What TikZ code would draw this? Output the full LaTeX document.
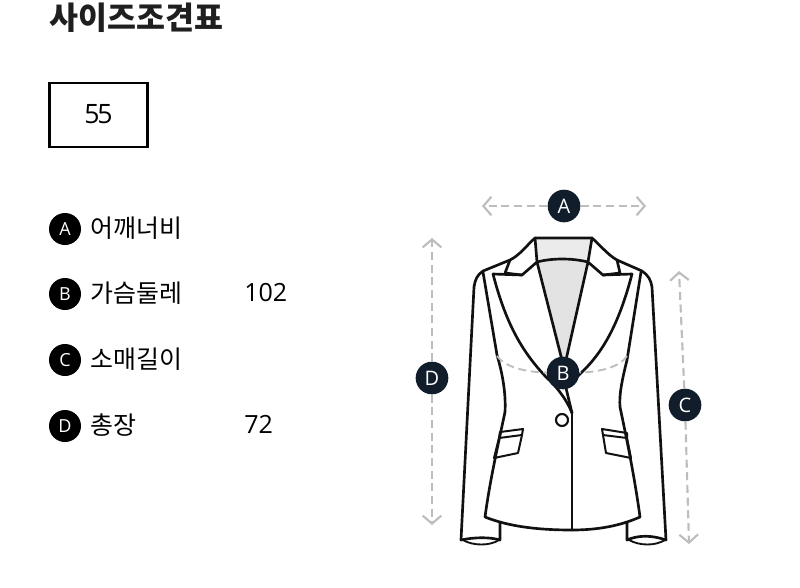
\documentclass[tikz,border=0pt]{standalone}
\usepackage{fontspec}
\setmainfont{Open Sans}
\newfontfamily\krfont{Noto Sans CJK KR}
\usetikzlibrary{arrows.meta}
\definecolor{navy}{HTML}{111D2B}
\definecolor{dashgray}{HTML}{BDBDBD}
\definecolor{inkline}{HTML}{111111}
\tikzset{
  x=0.75pt,y=-0.75pt,
  badge/.style={circle,fill=black,text=white,minimum size=24pt,inner sep=0pt,font=\fontsize{13.5}{13.5}\selectfont},
  jbadge/.style={circle,fill=navy,text=white,minimum size=24.5pt,inner sep=0pt,font=\fontsize{15}{15}\selectfont},
  label/.style={anchor=west,inner sep=0pt,font=\krfont\fontsize{18.7}{18.7}\selectfont,text=black},
  value/.style={anchor=west,inner sep=0pt,font=\fontsize{18.8}{18.8}\selectfont,text=black},
  measure/.style={draw=dashgray,line width=1.6pt,dash pattern=on 6pt off 3.5pt,-{Straight Barb[length=6pt,width=14pt,line width=1.6pt]}},
  curveline/.style={draw=dashgray,line width=1.4pt,dash pattern=on 6pt off 3.5pt},
  jacket/.style={draw=inkline,line width=2pt,line join=round,line cap=round},
}
\begin{document}
\begin{tikzpicture}
\useasboundingbox (0,0) rectangle (800,587);
\node[anchor=west,inner sep=0pt,font=\krfont\bfseries\fontsize{23.6}{23.6}\selectfont,text=black!88] (title) at (49,18) {사이즈조견표};
\node[draw=black,line width=1.6pt,minimum width=73.5pt,minimum height=48.5pt,inner sep=0pt,font=\fontsize{20}{20}\selectfont,anchor=center] (size) at (98.5,115) {\raisebox{1pt}{5\kern-1.6pt5}};

\node[badge] (la) at (65,229) {A};
\node[badge] (lb) at (65,294) {B};
\node[badge] (lc) at (65,360) {C};
\node[badge] (ld) at (65,426) {D};
\node[label] (ta) at (90,228) {어깨너비};
\node[label] (tb) at (90,293) {가슴둘레};
\node[label] (tc) at (90,359) {소매길이};
\node[label] (td) at (90,425) {총장};
\node[value] (vb) at (244,293) {102};
\node[value] (vd) at (244,424) {72};

% gray neck areas
\fill[black!8] (535,238) -- (592,238) -- (588,262) .. controls (570,258) and (552,258) .. (537,262) -- cycle;
\fill[black!11] (537,262) .. controls (552,258) and (570,258) .. (588,262) -- (566,360) -- (560,360) -- cycle;

% sleeves
\draw[jacket] (483,271) .. controls (477,275) and (475,280) .. (474,287) -- (461,540) .. controls (475,537) and (490,537) .. (500,540) -- (500,522);
\draw[jacket] (642,271) .. controls (648,275) and (651,280) .. (652,287) -- (666,540) .. controls (652,535) and (638,535) .. (627,540) -- (627,522);
\draw[jacket,line width=1.4pt] (463,540) .. controls (473,546) and (490,546) .. (499,540);
\draw[jacket,line width=1.4pt] (629,540) .. controls (640,546) and (655,546) .. (665,540);
% shoulders and neck
\draw[jacket] (483,271) -- (510,260) .. controls (520,255) and (527,245) .. (535,238) -- (592,238) .. controls (600,245) and (608,255) .. (617,260) -- (642,271);
% collar
\draw[jacket] (535,238) -- (537,262) (592,238) -- (588,262);
\draw[jacket] (537,262) .. controls (552,258) and (572,258) .. (588,262);
\draw[jacket] (510,260) -- (505,273) -- (522,275) -- (537,262);
\draw[jacket] (617,260) -- (620,273) -- (603,275) -- (588,262);
% lapels
\draw[jacket] (522,275) -- (493,274) .. controls (505,320) and (520,350) .. (547,378) .. controls (555,385) and (566,398) .. (572,413);
\draw[jacket] (603,275) -- (632,274) .. controls (620,320) and (605,350) .. (582,372) -- (566,388) -- (572,413);
\draw[jacket] (537,262) -- (562,360) (588,262) -- (566,360);
% body sides and hem
\draw[jacket] (483,272) -- (497,355) .. controls (503,375) and (506,395) .. (505,412) .. controls (498,445) and (490,480) .. (485,517) .. controls (510,527) and (540,530) .. (572,530) .. controls (600,530) and (622,525) .. (640,517) .. controls (635,480) and (628,445) .. (620,407) .. controls (619,395) and (622,380) .. (627,360) -- (641,272);
\draw[jacket] (572,413) -- (572,530);
% pockets
\draw[jacket,line width=1.5pt] (500,432) -- (523,429) -- (522,435) -- (499,438) -- cycle;
\draw[jacket,line width=1.5pt] (499,438) -- (494,458) -- (518,453) -- (522,435);
\draw[jacket,line width=1.5pt] (602,429) -- (627,433) -- (627,438) -- (603,435) -- cycle;
\draw[jacket,line width=1.5pt] (603,435) -- (606,453) -- (631,458) -- (627,438);
% button
\node[circle,draw=inkline,line width=1.6pt,fill=white,minimum size=9pt,inner sep=0pt] (button) at (562,420) {};

% measures
\node[jbadge] (ja) at (564,206) {A};
\node[jbadge] (jb) at (563,373) {B};
\node[jbadge] (jc) at (685,405) {C};
\node[jbadge] (jd) at (432,378) {D};
\coordinate (al) at (482,206);
\coordinate (ar) at (646,206);
\coordinate (dt) at (432,238);
\coordinate (db) at (432,525);
\coordinate (ct) at (679,271);
\coordinate (cb) at (689,544);
\coordinate (bl) at (497,356);
\coordinate (br) at (627,356);
\draw[measure] (ja) -- (al);
\draw[measure] (ja) -- (ar);
\draw[measure] (jd) -- (dt);
\draw[measure] (jd) -- (db);
\draw[measure] (jc) -- (ct);
\draw[measure] (jc) -- (cb);
\draw[curveline] (bl) .. controls (505,367) and (525,372) .. (jb);
\draw[curveline] (br) .. controls (620,367) and (600,372) .. (jb);
\end{tikzpicture}
\end{document}
